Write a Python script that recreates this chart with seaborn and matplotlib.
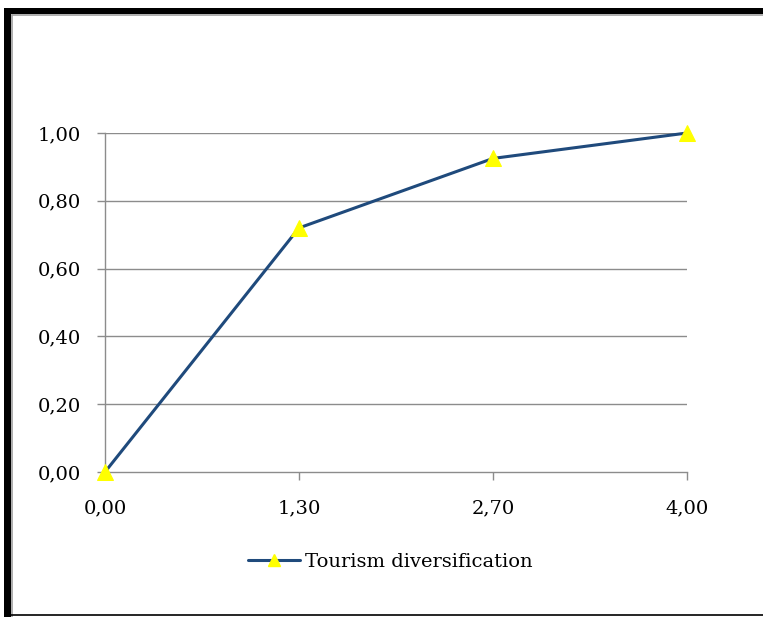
import matplotlib
matplotlib.use("Agg")
import matplotlib.pyplot as plt
import seaborn as sns
import pandas as pd
from matplotlib.lines import Line2D
from matplotlib.patches import Rectangle

categories = ["0,00", "1,30", "2,70", "4,00"]
values = [0.0, 0.72, 0.925, 1.0]
y_ticks = [0.0, 0.2, 0.4, 0.6, 0.8, 1.0]
y_labels = ["0,00", "0,20", "0,40", "0,60", "0,80", "1,00"]
series_name = "Tourism diversification"

df = pd.DataFrame({"pos": range(len(categories)), "value": values})

sns.set_theme(style="white")
plt.rcParams["font.family"] = ["DejaVu Serif"]
plt.rcParams["text.color"] = "black"

fig = plt.figure(figsize=(7.63, 6.17), dpi=100)
ax = fig.add_axes([105/763, 145/617, (687-105)/763, (472-133)/617])

line_color = "#1f4a7c"
sns.lineplot(data=df, x="pos", y="value", ax=ax, color=line_color, lw=2.2,
             marker="^", markersize=11, markerfacecolor="#ffff00",
             markeredgecolor="#ffff00", legend=False, zorder=3, clip_on=False)

ax.set_xlim(0, len(categories) - 1)
ax.set_ylim(0, 1)
ax.set_xticks(range(len(categories)))
ax.set_xticklabels(categories)
ax.set_yticks(y_ticks)
ax.set_yticklabels(y_labels)
ax.set_xlabel("")
ax.set_ylabel("")

grid_c = "#8c8c8c"
for yv in y_ticks[1:]:
    ax.axhline(yv, color=grid_c, lw=1.0, zorder=1)
for s in ["top", "right"]:
    ax.spines[s].set_visible(False)
for s in ["left", "bottom"]:
    ax.spines[s].set_color(grid_c)
    ax.spines[s].set_linewidth(1.0)

fs = 14
ax.tick_params(axis="both", which="both", length=5.5, width=1.0, color=grid_c,
               labelsize=fs, labelcolor="#000000")
ax.tick_params(axis="x", direction="out", bottom=True, pad=14)
ax.tick_params(axis="y", direction="out", left=True, pad=12)

handle = Line2D([0], [0], color=line_color, lw=2.2, marker="^", markersize=9,
                markerfacecolor="#ffff00", markeredgecolor="#ffff00")
leg = fig.legend([handle], [series_name], loc="center", bbox_to_anchor=(390/763, 1 - 562/617),
                 frameon=False, fontsize=fs, handlelength=2.7, handletextpad=0.25)
for t in leg.get_texts():
    t.set_color("black")

# outer frame
fig.patches.append(Rectangle((4/763, 0), 7/763, 1 - 8/617, transform=fig.transFigure,
                             facecolor="black", edgecolor="none", zorder=10))
fig.patches.append(Rectangle((4/763, 1 - 14/617), 1, 6/617, transform=fig.transFigure,
                             facecolor="black", edgecolor="none", zorder=10))
fig.lines.append(Line2D([11.5/763, 1], [1 - 15/617, 1 - 15/617], transform=fig.transFigure,
                        color="#a0a0a0", lw=1.2))
fig.lines.append(Line2D([11.8/763, 11.8/763], [0, 1 - 15/617], transform=fig.transFigure,
                        color="#a0a0a0", lw=1.2))
fig.lines.append(Line2D([11/763, 1], [2/617, 2/617], transform=fig.transFigure,
                        color="black", lw=1.2))

fig.savefig("out.png", dpi=100, facecolor="white")
